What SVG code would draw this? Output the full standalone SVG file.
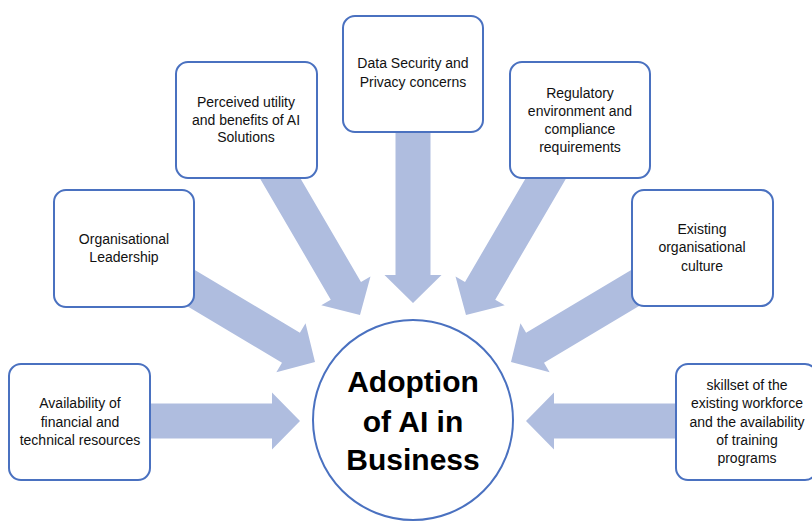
<svg xmlns="http://www.w3.org/2000/svg" width="812" height="523" viewBox="0 0 812 523">
<style>
.arrow{fill:#AFBDDF;}
.box{fill:#FFFFFF;stroke:#4A71C0;stroke-width:2;}
.lbl{font-family:"Liberation Sans",Arial,sans-serif;font-size:14px;fill:#111;text-anchor:middle;}
.title{font-family:"Liberation Sans",Arial,sans-serif;font-size:30px;font-weight:bold;fill:#000;text-anchor:middle;}
</style>
<rect width="812" height="523" fill="#FFFFFF"/>
<g id="connectors">
  <path class="arrow" transform="translate(300,421)" d="M0,0 L-28,-28.5 L-28,-17.5 L-220,-17.5 L-220,17.5 L-28,17.5 L-28,28.5 Z"/>
  <path class="arrow" transform="translate(526,421) rotate(180)" d="M0,0 L-28,-28.5 L-28,-17.5 L-221,-17.5 L-221,17.5 L-28,17.5 L-28,28.5 Z"/>
  <path class="arrow" transform="translate(413,303) rotate(90)" d="M0,0 L-28,-28.5 L-28,-17.5 L-229,-17.5 L-229,17.5 L-28,17.5 L-28,28.5 Z"/>
  <path class="arrow" transform="translate(315,362) rotate(30.8)" d="M0,0 L-28,-28.5 L-28,-17.5 L-222,-17.5 L-222,17.5 L-28,17.5 L-28,28.5 Z"/>
  <path class="arrow" transform="translate(511,362) rotate(149.2)" d="M0,0 L-28,-28.5 L-28,-17.5 L-222,-17.5 L-222,17.5 L-28,17.5 L-28,28.5 Z"/>
  <path class="arrow" transform="translate(360,315) rotate(59.7)" d="M0,0 L-28,-28.5 L-28,-17.5 L-226,-17.5 L-226,17.5 L-28,17.5 L-28,28.5 Z"/>
  <path class="arrow" transform="translate(466,315) rotate(120.3)" d="M0,0 L-28,-28.5 L-28,-17.5 L-226,-17.5 L-226,17.5 L-28,17.5 L-28,28.5 Z"/>
</g>
<g id="node-resources">
  <rect class="box" x="9" y="364" width="141" height="116" rx="12"/>
  <text class="lbl" x="80" y="408">Availability of</text>
  <text class="lbl" x="80" y="427">financial and</text>
  <text class="lbl" x="80" y="445">technical resources</text>
</g>
<g id="node-leadership">
  <rect class="box" x="54" y="190" width="140" height="117" rx="12"/>
  <text class="lbl" x="124" y="244">Organisational</text>
  <text class="lbl" x="124" y="262">Leadership</text>
</g>
<g id="node-utility">
  <rect class="box" x="176" y="62" width="141" height="116" rx="12"/>
  <text class="lbl" x="246" y="107">Perceived utility</text>
  <text class="lbl" x="246" y="125">and benefits of AI</text>
  <text class="lbl" x="246" y="142">Solutions</text>
</g>
<g id="node-security">
  <rect class="box" x="343" y="16" width="140" height="116" rx="12"/>
  <text class="lbl" x="413" y="68">Data Security and</text>
  <text class="lbl" x="413" y="87">Privacy concerns</text>
</g>
<g id="node-regulatory">
  <rect class="box" x="510" y="62" width="140" height="116" rx="12"/>
  <text class="lbl" x="580" y="98">Regulatory</text>
  <text class="lbl" x="580" y="116">environment and</text>
  <text class="lbl" x="580" y="134">compliance</text>
  <text class="lbl" x="580" y="152">requirements</text>
</g>
<g id="node-culture">
  <rect class="box" x="632" y="190" width="141" height="116" rx="12"/>
  <text class="lbl" x="702" y="234">Existing</text>
  <text class="lbl" x="702" y="252">organisational</text>
  <text class="lbl" x="702" y="271">culture</text>
</g>
<g id="node-skillset">
  <rect class="box" x="676" y="364" width="141" height="116" rx="12"/>
  <text class="lbl" x="747" y="390">skillset of the</text>
  <text class="lbl" x="747" y="408">existing workforce</text>
  <text class="lbl" x="747" y="427">and the availability</text>
  <text class="lbl" x="747" y="445">of training</text>
  <text class="lbl" x="747" y="463">programs</text>
</g>
<g id="node-center">
  <circle cx="413" cy="420" r="100" fill="#FFFFFF" stroke="#4A71C0" stroke-width="2"/>
  <text class="title" x="413" y="392">Adoption</text>
  <text class="title" x="413" y="432">of AI in</text>
  <text class="title" x="413" y="470">Business</text>
</g>
</svg>
